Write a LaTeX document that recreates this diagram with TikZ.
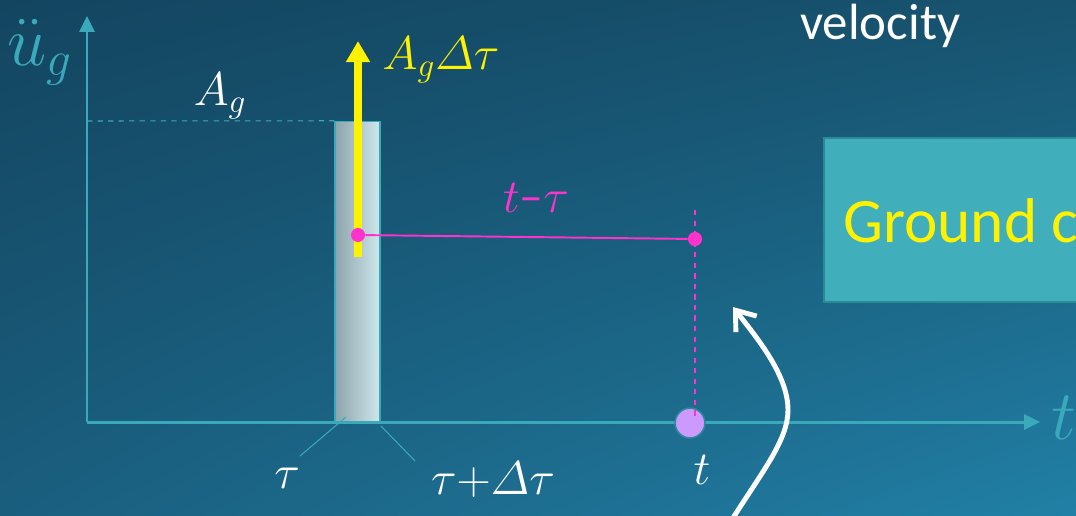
\RequirePackage{fix-cm}
\documentclass[tikz,border=0pt]{standalone}
\usepackage{amsmath,amssymb}
\usepackage{fontspec}
\setmainfont{Carlito}
\usepackage{xcolor}
\usepackage{tikz}
\usetikzlibrary{arrows.meta,calc,positioning,shadings}

\definecolor{bgUL}{HTML}{134560}
\definecolor{bgUR}{HTML}{17536F}
\definecolor{bgLL}{HTML}{1A5E7E}
\definecolor{bgLR}{HTML}{2180A6}
\definecolor{axteal}{HTML}{3AAABB}
\definecolor{pinkline}{HTML}{FF33CC}
\definecolor{lilac}{HTML}{CC99FF}
\definecolor{boxteal}{HTML}{41AEBC}
\definecolor{boxedge}{HTML}{2B8A98}
\definecolor{slabL}{HTML}{8EA3AB}
\definecolor{slabR}{HTML}{CDE8EC}

\begin{document}
\begin{tikzpicture}[x=0.02cm,y=-0.02cm,
  axis/.style={draw=axteal,line width=1.7pt,-{Triangle[length=9pt,width=8.5pt]}},
  mathlbl/.style={inner sep=0pt,text=#1,font=\fontsize{27}{30}\selectfont},
  pinkdot/.style={circle,fill=pinkline,inner sep=0pt,minimum size=8pt},
  leader/.style={draw=axteal,line width=0.6pt}]
  % frame and background
  \useasboundingbox (0,0) rectangle (1076,515);
  \clip (0,0) rectangle (1076,515);
  \shade[upper left=bgUL,upper right=bgUR,lower left=bgLL,lower right=bgLR] (0,0) rectangle (1076,515);

  % axes
  \coordinate (O) at (87,422);
  \coordinate (ytip) at (87,16);
  \coordinate (xtip) at (1040,422);
  \coordinate (Alevel) at (87,121);
  \draw[axis] (O) -- (ytip);
  \draw[axis] (O) -- (xtip);
  \node[mathlbl=axteal,font=\fontsize{40}{44}\selectfont] (ylab) at (40,52) {$\ddot{u}_g$};
  \node[mathlbl=axteal,font=\fontsize{40}{44}\selectfont,anchor=west] (xlab) at (1051,418) {$t$};

  % pulse strip
  \node[draw=axteal,line width=0.9pt,left color=slabL,right color=slabR,inner sep=0pt,
        minimum width=25.5pt,minimum height=170.7pt] (slab) at (357.5,271.5) {};
  \draw[axteal,dashed,line width=0.6pt] (Alevel) -- (slab.north west);
  \node[mathlbl=white] (Ag) at (220,96) {$A_g$};

  % impulse
  \draw[yellow,line width=4.5pt,-{Triangle[length=12pt,width=13pt]}] (358,257) -- (358,41);
  \node[mathlbl=yellow] (impulse) at (441,60) {$A_g\varDelta\tau$};

  % time lag
  \node[pinkdot] (p1) at (358,235) {};
  \node[pinkdot] (p2) at (695,239) {};
  \draw[pinkline,line width=1.1pt] (p1) -- (p2);
  \node[mathlbl=pinkline] (lag) at (536,198) {$t\text{--}\tau$};
  \node[circle,fill=lilac,draw=boxedge,line width=0.9pt,inner sep=0pt,minimum size=17pt] (tdot) at (690,423) {};
  \coordinate (dtop) at (695,210);
  \coordinate (dbot) at (695,420);
  \draw[pinkline,dashed,line width=0.6pt] (dtop) -- (dbot);

  % time labels
  \node[mathlbl=white] (tau) at (287,478) {$\tau$};
  \node[mathlbl=white] (taud) at (493,480) {$\tau{+}\varDelta\tau$};
  \node[mathlbl=white] (tlab) at (702,470) {$t$};
  \coordinate (l1a) at (300,456);
  \coordinate (l1b) at (346,417);
  \coordinate (l2a) at (381,426);
  \coordinate (l2b) at (415,461);
  \draw[leader] (l1a) -- (l1b);
  \draw[leader] (l2a) -- (l2b);

  % curved pointer
  \coordinate (cstart) at (733,518);
  \coordinate (cmid) at (788,410);
  \coordinate (ctip) at (733,307);
  \draw[white,line width=2.8pt,line cap=round,-{Straight Barb[length=10pt,width=15pt]}]
    (cstart) .. controls (762,472) and (788,440) .. (cmid)
             .. controls (788,375) and (757,338) .. (ctip);

  % right-hand text
  \node[anchor=base west,inner sep=0pt,text=white,font=\fontsize{29}{32}\selectfont] (vel) at (800,39) {velocity};
  \node[anchor=north west,fill=boxteal,draw=boxedge,line width=1.2pt,inner sep=0pt,
        minimum width=250pt,minimum height=93.5pt] (gbox) at (823,137) {};
  \node[anchor=base west,inner sep=0pt,text=yellow,font=\fontsize{36}{40}\selectfont] (gtext) at (843,242) {Ground c};
\end{tikzpicture}
\end{document}
